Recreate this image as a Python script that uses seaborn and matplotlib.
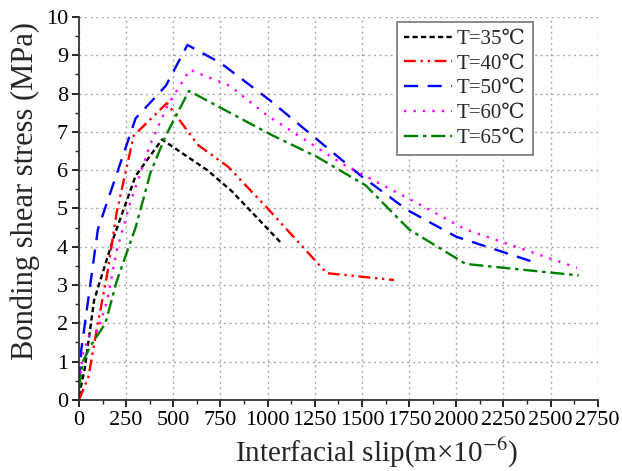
import matplotlib
matplotlib.use("Agg")
import matplotlib.pyplot as plt
import seaborn as sns
import pandas as pd
from matplotlib.ticker import MultipleLocator

labels = ["T=35℃", "T=40℃", "T=50℃", "T=60℃", "T=65℃"]

x35 = [0, 30, 80, 185, 300, 440, 680, 810, 1075]
y35 = [0.1, 0.8, 2.6, 4.26, 5.85, 6.8, 6.0, 5.45, 4.08]

x40 = [0, 25, 50, 100, 150, 200, 290, 466, 630, 790, 1000, 1313, 1670]
y40 = [0.0, 0.3, 0.6, 2.0, 3.3, 4.9, 6.9, 7.75, 6.66, 6.09, 5.0, 3.31, 3.13]

x50 = [0, 12, 100, 300, 460, 575, 750, 1010, 1260, 1490, 1740, 2000, 2410]
y50 = [0.5, 1.3, 4.45, 7.35, 8.2, 9.27, 8.8, 7.83, 6.81, 5.87, 4.96, 4.26, 3.6]

x60 = [0, 20, 60, 100, 150, 200, 275, 380, 470, 588, 800, 1000, 1400, 1750, 2050, 2640]
y60 = [0.2, 1.2, 1.75, 1.8, 2.6, 3.9, 5.2, 6.7, 7.7, 8.62, 8.2, 7.42, 6.15, 5.25, 4.45, 3.45]

x65 = [0, 20, 60, 100, 140, 200, 300, 380, 460, 583, 1020, 1260, 1520, 1750, 2050, 2650]
y65 = [0.3, 1.0, 1.4, 1.7, 2.0, 3.1, 4.5, 5.95, 6.9, 8.07, 6.92, 6.35, 5.6, 4.45, 3.55, 3.25]

xs = [x35, x40, x50, x60, x65]
ys = [y35, y40, y50, y60, y65]

colors = ["black", "red", "blue", "magenta", "green"]
styles = [(0, (2.2, 1.4)),
          (0, (5, 2, 1, 2, 1, 2)),
          (0, (6, 4)),
          (0, (1, 3)),
          (0, (6, 2, 1.5, 2))]

sns.set_style("ticks")
plt.rcParams['font.family'] = ['Liberation Serif', 'DejaVu Serif']
plt.rcParams['mathtext.fontset'] = 'stix'

fig = plt.figure(figsize=(6.22, 4.71), dpi=100)
ax = fig.add_axes([0.127, 0.151, 0.834, 0.813])

for lab, x, y, c, s in zip(labels, xs, ys, colors, styles):
    df = pd.DataFrame({"x": x, "y": y})
    sns.lineplot(data=df, x="x", y="y", ax=ax, color=c, linestyle=s,
                 linewidth=1.7, estimator=None, sort=False, label=lab)

ax.set_xlim(0, 2750)
ax.set_ylim(0, 10)
ax.xaxis.set_major_locator(MultipleLocator(250))
ax.xaxis.set_minor_locator(MultipleLocator(125))
ax.yaxis.set_major_locator(MultipleLocator(1))
ax.yaxis.set_minor_locator(MultipleLocator(0.5))
ax.grid(True, which='major', linestyle=(0, (1.5, 2.5)), color='#aaaaaa', linewidth=1.0)
ax.tick_params(which='major', direction='out', length=5, width=1.2, labelsize=16, colors='black', pad=3)
ax.tick_params(which='minor', direction='out', length=3, width=1.0)
for sp in ['top', 'right']:
    ax.spines[sp].set_visible(False)
for sp in ['left', 'bottom']:
    ax.spines[sp].set_linewidth(1.3)
    ax.spines[sp].set_color('#333333')

ax.set_xlabel(r"Interfacial slip(m×10$^{-6}$)", fontsize=21)
ax.set_ylabel("Bonding shear stress (MPa)", fontsize=22)
ax.xaxis.set_label_coords(0.574, -0.095)
ax.yaxis.set_label_coords(-0.075, 0.546)

leg = ax.legend(loc='upper left', bbox_to_anchor=(0.613, 0.987), fontsize=15,
                frameon=True, fancybox=False, edgecolor='#777777',
                handlelength=2.3, labelspacing=0.25, handletextpad=0.2,
                borderpad=0.35, borderaxespad=0, framealpha=1)
leg.get_frame().set_linewidth(1.2)

fig.savefig("out.png", dpi=100)
